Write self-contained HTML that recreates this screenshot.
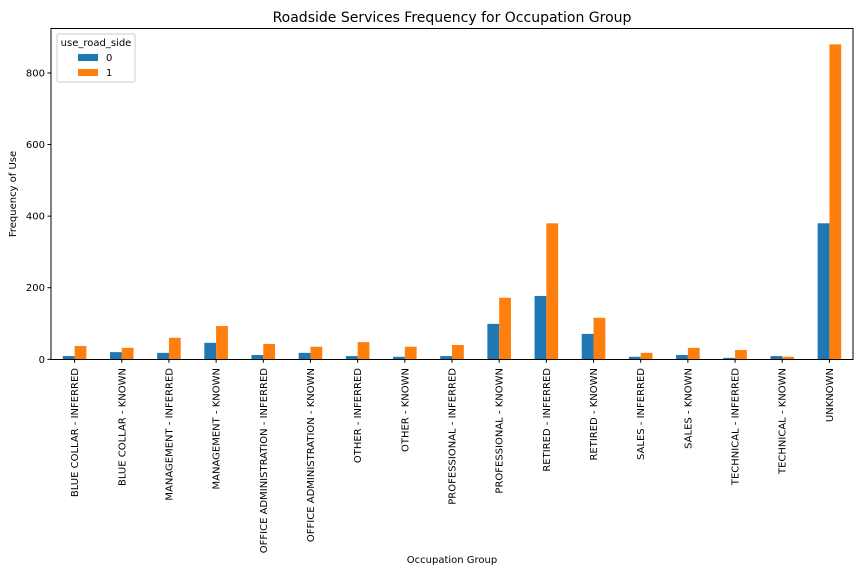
<!DOCTYPE html>
<html><head><meta charset="utf-8"><style>
body{margin:0;background:#fff;}
svg{display:block;font-family:"DejaVu Sans","Liberation Sans",sans-serif;}
</style></head><body>
<svg id="chart" width="864" height="576">
<text x="452" y="22" text-anchor="middle" font-size="14" fill="#000">Roadside Services Frequency for Occupation Group</text>
<g id="bars"></g>
<g id="yaxis"></g>
<g id="xaxis"></g>
<rect x="51" y="28.5" width="802" height="331" fill="none" stroke="#000" stroke-width="1"/>
<text x="16" y="194" text-anchor="middle" font-size="10" transform="rotate(-90 16 194)">Frequency of Use</text>
<text x="452" y="563" text-anchor="middle" font-size="10">Occupation Group</text>
<g>
<rect x="57" y="34" width="78" height="48" rx="2" fill="#fff" fill-opacity="0.8" stroke="#ccc"/>
<text x="96" y="46" text-anchor="middle" font-size="10">use_road_side</text>
<rect x="78" y="54" width="20" height="7" fill="#1f77b4"/>
<text x="106" y="61" font-size="10">0</text>
<rect x="78" y="69" width="20" height="7" fill="#ff7f0e"/>
<text x="106" y="76" font-size="10">1</text>
</g>
</svg>
<script>
const categories=["BLUE COLLAR - INFERRED","BLUE COLLAR - KNOWN","MANAGEMENT - INFERRED","MANAGEMENT - KNOWN","OFFICE ADMINISTRATION - INFERRED","OFFICE ADMINISTRATION - KNOWN","OTHER - INFERRED","OTHER - KNOWN","PROFESSIONAL - INFERRED","PROFESSIONAL - KNOWN","RETIRED - INFERRED","RETIRED - KNOWN","SALES - INFERRED","SALES - KNOWN","TECHNICAL - INFERRED","TECHNICAL - KNOWN","UNKNOWN"];
const series0=[9,20,18,46,12,18,9,7,9,99,177,71,7,12,4,9,380];
const series1=[37,32,60,93,43,35,48,35,40,172,380,116,18,32,26,7,880];
const yTicks=[0,200,400,600,800];
const NS="http://www.w3.org/2000/svg";
const L=51,R=853,B=359.3,PX=0.3579;
const step=(R-L)/categories.length,bw=step*0.25;
const xc=i=>L+step*(i+0.5);
const y=v=>B-v*PX;
function mk(t,a,p){const e=document.createElementNS(NS,t);for(const k in a)e.setAttribute(k,a[k]);p.appendChild(e);return e;}
const gb=document.getElementById('bars'),gy=document.getElementById('yaxis'),gx=document.getElementById('xaxis');
categories.forEach((c,i)=>{
 const b0=mk('rect',{x:xc(i)-bw,y:y(series0[i]),width:bw,height:series0[i]*PX,fill:'#1f77b4'},gb);
 
 
 const b1=mk('rect',{x:xc(i),y:y(series1[i]),width:bw,height:series1[i]*PX,fill:'#ff7f0e'},gb);
 
 
 mk('line',{x1:xc(i),x2:xc(i),y1:B,y2:B+3.5,stroke:'#000'},gx);
 const t=mk('text',{x:0,y:0,'font-size':10,'text-anchor':'end',transform:`translate(${xc(i)+3.5},368) rotate(-90)`},gx);
 t.textContent=c;
 
 
});
yTicks.forEach(v=>{
 mk('line',{x1:L-3.5,x2:L,y1:y(v),y2:y(v),stroke:'#000'},gy);
 const t=mk('text',{x:L-6,y:y(v)+3.5,'font-size':10,'text-anchor':'end'},gy);
 t.textContent=v;
 
 
});
</script>
</body></html>
